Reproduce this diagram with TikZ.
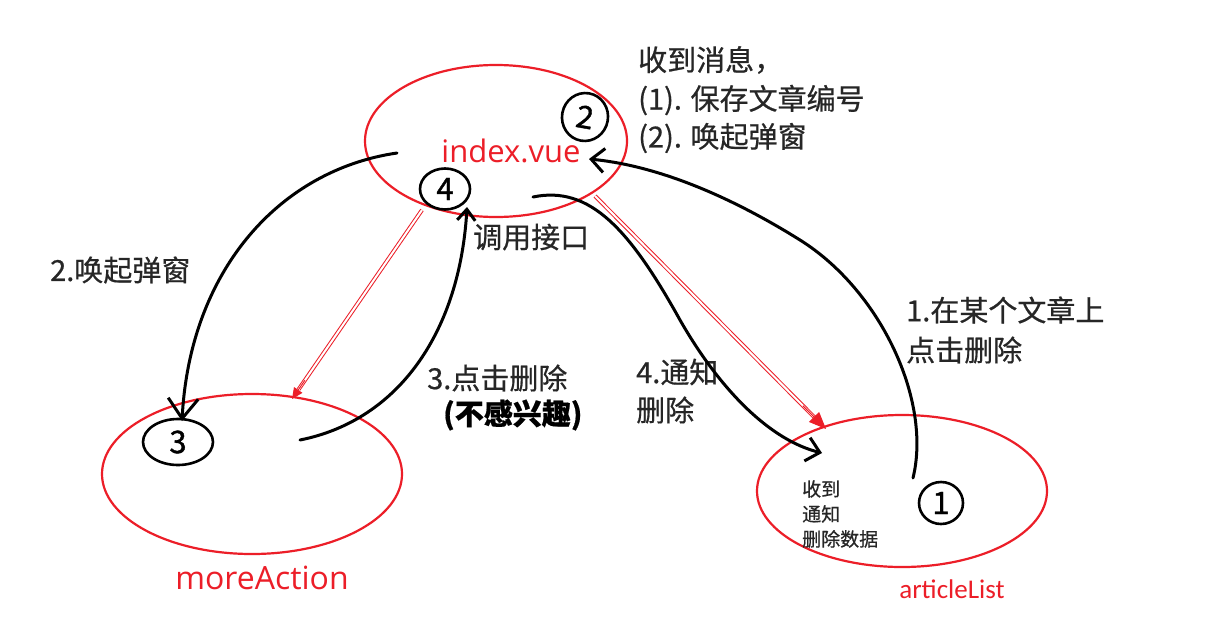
\documentclass[tikz,border=0pt]{standalone}
\usepackage{fontspec}
\setmainfont{Noto Sans CJK SC}[FakeBold=0.6]
\newfontfamily\heavy{Noto Sans CJK SC}[FakeBold=1.2]
\newfontfamily\segoe{Open Sans}
\newfontfamily\calib{Carlito}
\usetikzlibrary{arrows.meta,shapes.geometric,calc}
\definecolor{penred}{RGB}{236,30,40}
\begin{document}
\begin{tikzpicture}[x=1pt,y=-1pt,
  oval/.style={ellipse, draw=penred, line width=2.2pt, inner sep=0pt},
  hand/.style={draw=black, line width=3pt, line cap=round, line join=round},
  ring/.style={ellipse, draw=black, line width=2.6pt, inner sep=0pt, font=\heavy\fontsize{31}{31}\selectfont},
  barb/.style={-{Straight Barb[length=13pt,width=24pt,line width=3pt]}},
  redline/.style={draw=penred, line width=1pt, double distance=2pt},
  redtip/.style={draw=penred, line width=1pt, -{Triangle[length=17pt,width=14pt,fill=penred]}},
  txt/.style={anchor=west, inner sep=0pt, font=\fontsize{29}{34}\selectfont, text=black!85},
  small/.style={anchor=west, inner sep=0pt, font=\fontsize{19}{25}\selectfont, text=black!85, align=left},
  lab/.style={inner sep=0pt, text=penred}
]
\useasboundingbox (0,0) rectangle (1209,640);
\fill[white] (0,0) rectangle (1209,640);

% main ellipses
\node[oval, minimum width=262pt, minimum height=152pt] (index) at (496,141) {};
\node[oval, minimum width=300pt, minimum height=160pt] (more) at (252,474) {};
\node[oval, minimum width=290pt, minimum height=152pt] (article) at (902,491) {};

% labels of ellipses
\node[lab, font=\segoe\fontsize{31}{31}\selectfont] (indexlab) at (511,151) {index.vue};
\node[lab, font=\segoe\fontsize{32}{32}\selectfont] (morelab) at (262,578) {moreAction};
\node[lab, font=\calib\fontsize{27}{27}\selectfont] (artlab) at (952,589) {articleList};

% circled numbers
\node[ring, minimum width=46pt, minimum height=48pt, rotate=-10] (c2) at (585,117) {2};
\node[ring, minimum width=50pt, minimum height=41pt] (c4) at (445,189) {4};
\node[ring, minimum width=70pt, minimum height=46pt] (c3) at (178,442) {3};
\node[ring, minimum width=44pt, minimum height=42pt] (c1) at (941,503) {\itshape 1};

% texts
\node[txt] (m1) at (638,60) {收到消息，};
\node[txt] (m2) at (638,100) {(1). 保存文章编号};
\node[txt] (m3) at (638,138) {(2). 唤起弹窗};
\node[txt] (t2) at (50,270) {2.唤起弹窗};
\node[txt] (tapi) at (473,237) {调用接口};
\node[txt] (t3) at (427,378) {3.点击删除};
\node[txt, font=\bfseries\fontsize{29}{34}\selectfont, text=black] (t3b) at (443,415) {(不感兴趣)};
\node[txt] (t4) at (636,372) {4.通知};
\node[txt] (t4b) at (636,410) {删除};
\node[txt] (t1) at (906,310) {1.在某个文章上};
\node[txt] (t1b) at (906,350) {点击删除};
\node[small] (recv) at (802,514) {收到\\通知\\删除数据};

% connector end points
\coordinate (a1s) at (913,478);
\coordinate (a1m) at (800,240);
\coordinate (a1e) at (589,159);
\coordinate (a2s) at (397,153);
\coordinate (a2e) at (182,421);
\coordinate (a3s) at (300,440);
\coordinate (a3e) at (467,207);
\coordinate (a4s) at (533,197);
\coordinate (a4m) at (680,320);
\coordinate (a4e) at (822,453);
\coordinate (r1s) at (422,210);
\coordinate (r1e) at (292,399);
\coordinate (r2s) at (595,196);
\coordinate (r2e) at (826,429);

% black hand-drawn connectors
\draw[hand, barb] (a1s) .. controls (932,400) and (880,290) .. (a1m)
   .. controls (720,190) and (650,165) .. (a1e);
\draw[hand, -{Straight Barb[length=20pt,width=30pt,line width=3pt]}] (a2s) .. controls (280,170) and (190,270) .. (a2e);
\draw[hand, -{Straight Barb[length=11pt,width=18pt,line width=3pt]}] (a3s) .. controls (400,420) and (460,330) .. (a3e);
\draw[hand, barb] (a4s) .. controls (590,185) and (630,230) .. (a4m)
   .. controls (720,390) and (770,440) .. (a4e);

% red double arrows
\draw[redline] (r1s) -- ($(r1s)!0.95!(r1e)$);
\draw[redtip, -{Triangle[length=11pt,width=10pt,fill=penred]}] ($(r1s)!0.9!(r1e)$) -- (r1e);
\draw[redline] (r2s) -- ($(r2s)!0.95!(r2e)$);
\draw[redtip] ($(r2s)!0.9!(r2e)$) -- (r2e);
\end{tikzpicture}
\end{document}
